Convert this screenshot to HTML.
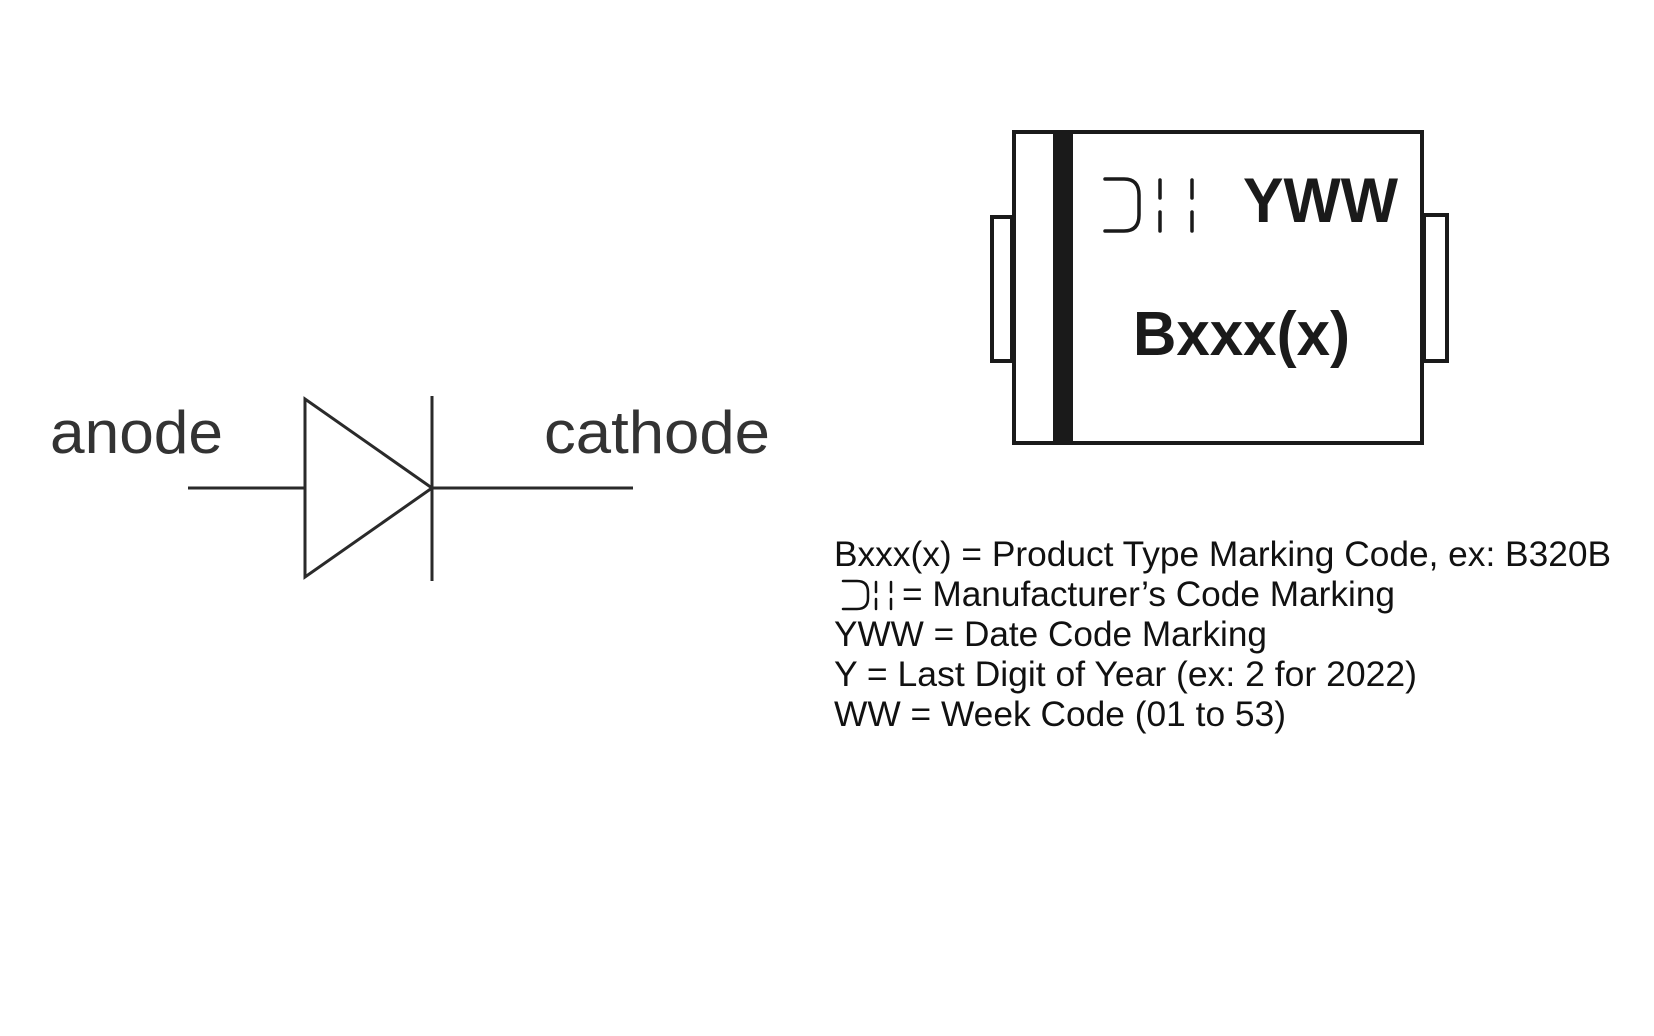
<!DOCTYPE html>
<html><head><meta charset="utf-8"><style>
html,body{margin:0;padding:0;background:#fff;}
svg{display:block;}
text{font-family:"Liberation Sans",Arial,sans-serif;}
</style></head><body>
<svg width="1654" height="1036" viewBox="0 0 1654 1036" xmlns="http://www.w3.org/2000/svg">
<rect width="1654" height="1036" fill="#fff"/>
<!-- diode -->
<g stroke="#2a2a2a" stroke-width="3" fill="none">
<line x1="188" y1="488" x2="633" y2="488"/>
<polygon points="305,399 305,577 432,488" fill="#fff"/>
<line x1="432" y1="396" x2="432" y2="581"/>
</g>
<text x="50" y="453" font-size="60" fill="#333" textLength="173" lengthAdjust="spacingAndGlyphs">anode</text>
<text x="544" y="453" font-size="60" fill="#333" textLength="226" lengthAdjust="spacingAndGlyphs">cathode</text>
<!-- package -->
<g stroke="#1a1a1a" stroke-width="4" fill="#fff">
<rect x="992" y="217" width="20" height="144"/>
<rect x="1424" y="215" width="23" height="146"/>
<rect x="1014" y="132" width="408" height="311"/>
</g>
<rect x="1053" y="132" width="20" height="311" fill="#1a1a1a"/>
<g stroke="#1a1a1a" stroke-width="3.5" fill="none" stroke-linecap="round">
<path d="M1105,179 H1124 Q1139,179 1139,195 V215 Q1139,231 1124,231 H1105"/>
<line x1="1160" y1="180" x2="1160" y2="198"/>
<line x1="1160" y1="212" x2="1160" y2="231"/>
<line x1="1192" y1="180" x2="1192" y2="198"/>
<line x1="1192" y1="212" x2="1192" y2="231"/>
</g>
<text x="1243" y="222" font-size="63" font-weight="bold" fill="#1a1a1a" textLength="155" lengthAdjust="spacingAndGlyphs">YWW</text>
<text x="1133" y="355" font-size="62" font-weight="bold" fill="#1a1a1a" textLength="217" lengthAdjust="spacingAndGlyphs">Bxxx(x)</text>
<!-- legend -->
<g font-size="35" fill="#111">
<text x="834" y="566" textLength="777" lengthAdjust="spacingAndGlyphs">Bxxx(x) = Product Type Marking Code, ex: B320B</text>
<text x="902" y="606" textLength="493" lengthAdjust="spacingAndGlyphs">= Manufacturer’s Code Marking</text>
<text x="834" y="646" textLength="433" lengthAdjust="spacingAndGlyphs">YWW = Date Code Marking</text>
<text x="834" y="686" textLength="583" lengthAdjust="spacingAndGlyphs">Y = Last Digit of Year (ex: 2 for 2022)</text>
<text x="834" y="726" textLength="452" lengthAdjust="spacingAndGlyphs">WW = Week Code (01 to 53)</text>
</g>
<g stroke="#111" stroke-width="2.5" fill="none" stroke-linecap="round">
<path d="M843,581 H857 Q868,581 868,592 V598 Q868,609 857,609 H843"/>
<line x1="876" y1="582" x2="876" y2="592"/>
<line x1="876" y1="599" x2="876" y2="609"/>
<line x1="891" y1="582" x2="891" y2="592"/>
<line x1="891" y1="599" x2="891" y2="609"/>
</g>
</svg>
</body></html>
